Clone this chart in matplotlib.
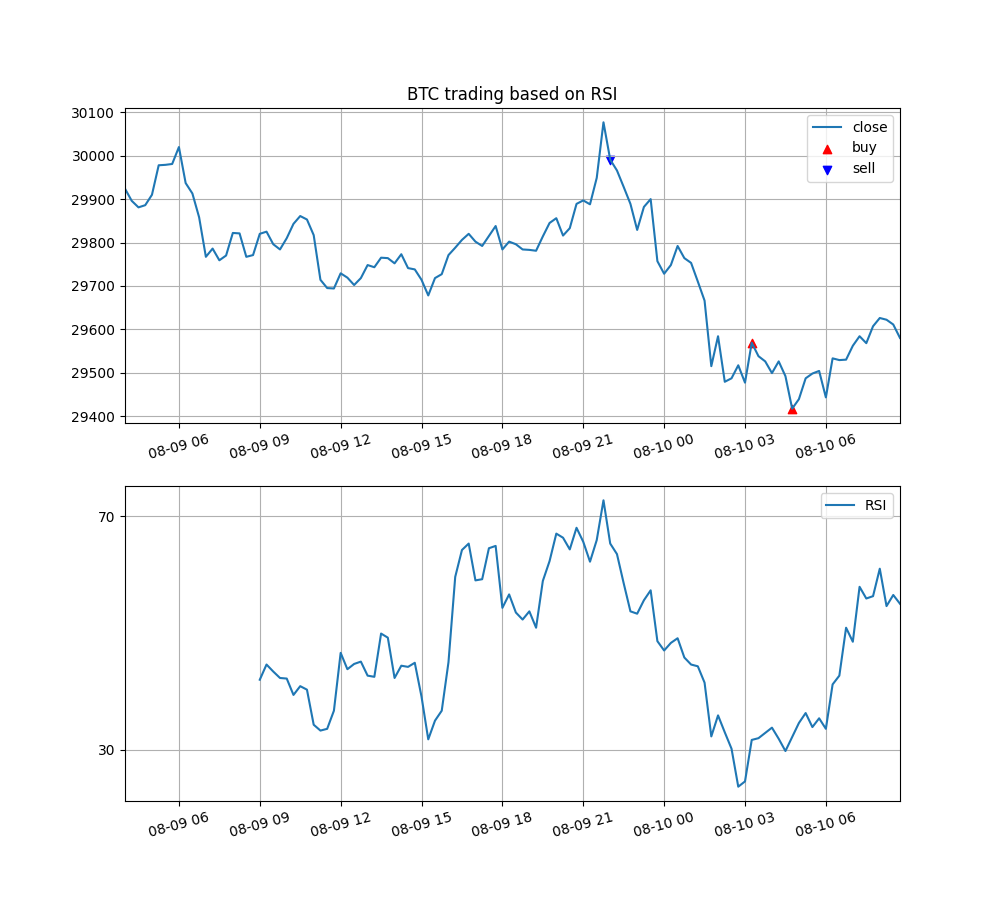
import numpy as np
import pandas as pd
import matplotlib
matplotlib.use("Agg")
import matplotlib.pyplot as plt
import matplotlib.dates as mdates

start_time = "2023-08-09 04:00"
n_points = 116

close = [29924, 29896, 29881, 29886, 29910, 29978, 29979, 29981, 30020, 29937,
         29913, 29858, 29767, 29786, 29759, 29770, 29822, 29821, 29767, 29771,
         29820, 29825, 29796, 29784, 29810, 29843, 29861, 29853, 29817, 29714,
         29695, 29694, 29729, 29719, 29702, 29718, 29748, 29743, 29765, 29764,
         29752, 29773, 29741, 29738, 29714, 29678, 29718, 29727, 29771, 29788,
         29806, 29820, 29802, 29792, 29815, 29838, 29784, 29802, 29796, 29784,
         29783, 29781, 29814, 29845, 29856, 29816, 29833, 29889, 29897, 29888,
         29949, 30077, 29991, 29966, 29928, 29889, 29829, 29882, 29900, 29757,
         29728, 29748, 29792, 29764, 29753, 29710, 29666, 29515, 29584, 29479,
         29487, 29517, 29477, 29569, 29538, 29526, 29499, 29526, 29492, 29417,
         29439, 29487, 29498, 29504, 29443, 29533, 29529, 29530, 29562, 29584,
         29568, 29607, 29626, 29622, 29611, 29580]

rsi_values = [42.0, 44.6, 43.4, 42.3, 42.2, 39.4, 40.9, 40.3, 34.3, 33.3,
              33.6, 36.7, 46.6, 43.8, 44.7, 45.1, 42.7, 42.5, 49.9, 49.2,
              42.3, 44.4, 44.2, 44.9, 39.1, 31.8, 35.0, 36.7, 45.0, 59.6,
              64.2, 65.3, 59.0, 59.2, 64.5, 64.9, 54.3, 56.6, 53.5, 52.3,
              53.7, 50.9, 58.9, 62.3, 67.0, 66.3, 64.3, 68.0, 65.6, 62.2,
              65.9, 72.7, 65.3, 63.5, 58.5, 53.7, 53.3, 55.6, 57.3, 48.6,
              47.0, 48.3, 49.1, 45.8, 44.6, 44.3, 41.5, 32.3, 35.9, 33.0,
              30.2, 23.7, 24.6, 31.7, 32.0, 32.9, 33.8, 31.9, 29.8, 32.2,
              34.6, 36.3, 33.9, 35.4, 33.6, 41.2, 42.7, 50.9, 48.5, 57.9,
              55.9, 56.3, 61.0, 54.6, 56.5, 55.0]
rsi_nan_count = 20

buy_idx = [93, 99]
sell_idx = [72]

times = pd.date_range(start_time, periods=n_points, freq="15min")
close_s = pd.Series(close, index=times)
rsi = pd.Series([np.nan] * rsi_nan_count + rsi_values, index=times)

fig, (ax1, ax2) = plt.subplots(2, 1, figsize=(10, 9), dpi=100)

ax1.plot(times, close_s.values, label="close")
ax1.scatter(times[buy_idx], close_s.values[buy_idx], marker="^", color="red", label="buy")
ax1.scatter(times[sell_idx], close_s.values[sell_idx], marker="v", color="blue", label="sell")
ax1.set_title("BTC trading based on RSI")
ax1.legend(loc="upper right")
ax1.grid(True)

ax2.plot(times, rsi.values, label="RSI")
ax2.set_yticks([30, 70])
ax2.legend(loc="upper right")
ax2.grid(True)

for ax in (ax1, ax2):
    ax.set_xlim(times[0], times[-1])
    ax.xaxis.set_major_locator(mdates.HourLocator(byhour=range(0, 24, 3)))
    ax.xaxis.set_major_formatter(mdates.DateFormatter("%m-%d %H"))
    for lbl in ax.get_xticklabels():
        lbl.set_rotation(15)

fig.savefig("out.png", dpi=100)
